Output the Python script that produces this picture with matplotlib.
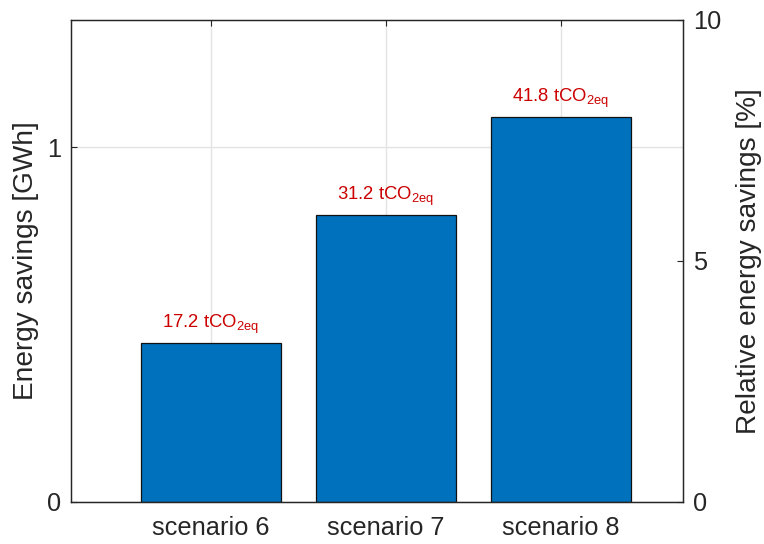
import matplotlib
matplotlib.use("Agg")
import matplotlib.pyplot as plt
from matplotlib.ticker import FormatStrFormatter

plt.rcParams['font.family'] = ['Liberation Sans', 'DejaVu Sans']
plt.rcParams['mathtext.fontset'] = 'custom'
plt.rcParams['mathtext.rm'] = 'Liberation Sans'
plt.rcParams['mathtext.it'] = 'Liberation Sans:italic'

# Savings per scenario
scenarios = ['scenario 6', 'scenario 7', 'scenario 8']
energy_savings_gwh = [0.447, 0.809, 1.084]
co2_savings_t = [17.2, 31.2, 41.8]
relative_ticks = [0, 5, 10]

axis_color = '#262626'
bar_color = '#0072BD'
label_color = '#CC0000'
grid_color = '#E3E3E3'

fig = plt.figure(figsize=(7.64, 5.44), dpi=100)
ax = fig.add_axes([0.0929, 0.0778, 0.8011, 0.8862])

positions = list(range(1, len(scenarios) + 1))
bars = ax.bar(positions, energy_savings_gwh, width=0.8, color=bar_color,
              edgecolor='#111111', linewidth=0.9, zorder=2)

for x, h, c in zip(positions, energy_savings_gwh, co2_savings_t):
    ax.annotate(r'%.1f tCO$_{\mathrm{2eq}}$' % c, xy=(x, h), xytext=(0, 5),
                textcoords='offset points', ha='center', va='bottom',
                color=label_color, fontsize=13.3)

ax.set_xlim(0.2, 3.7)
ax.set_ylim(0, 1.36)
ax.set_xticks(positions)
ax.set_xticklabels(scenarios)
ax.set_yticks([0, 1])
ax.yaxis.set_major_formatter(FormatStrFormatter('%g'))
ax.set_ylabel('Energy savings [GWh]', fontsize=20.2, color=axis_color, labelpad=6)

ax.set_axisbelow(True)
ax.grid(True, color=grid_color, linewidth=1.0)

ax.tick_params(axis='both', direction='in', length=4.5, width=0.8,
               colors=axis_color, labelsize=18.3, top=True, right=True,
               labelright=False)
ax.tick_params(axis='x', pad=10.5)
ax.tick_params(axis='y', pad=7)

for s in ax.spines.values():
    s.set_color(axis_color)
    s.set_linewidth(0.9)

ax2 = ax.twinx()
ax2.set_ylim(0, 10)
ax2.set_yticks(relative_ticks)
ax2.yaxis.set_major_formatter(FormatStrFormatter('%g'))
ax2.set_ylabel('Relative energy savings [%]', fontsize=20.2, color=axis_color,
               labelpad=11)
ax2.tick_params(axis='y', direction='in', length=4.5, width=0.8,
                colors=axis_color, labelsize=18.3, pad=7, left=False)
for s in ax2.spines.values():
    s.set_color(axis_color)
    s.set_linewidth(0.9)

fig.savefig('out.png', dpi=100)
